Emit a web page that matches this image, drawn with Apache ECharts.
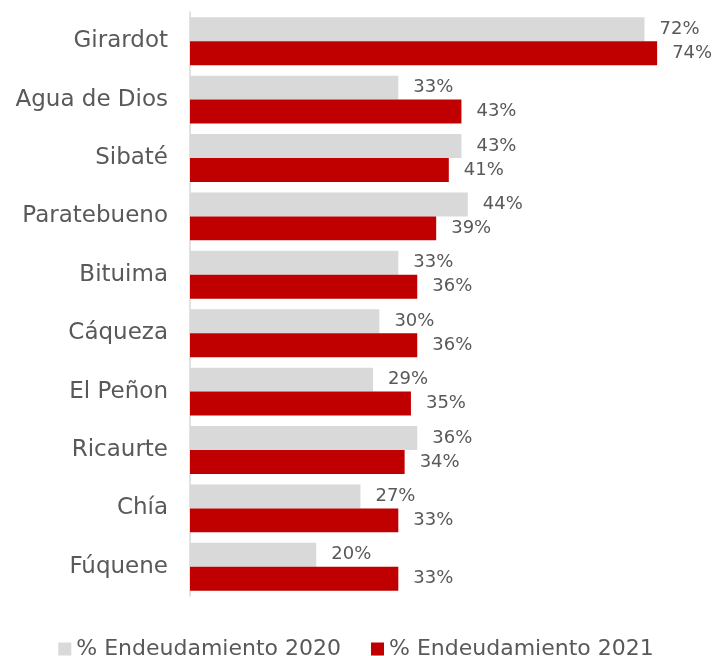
<!DOCTYPE html>
<html><head><meta charset="utf-8">
<script src="https://cdn.jsdelivr.net/npm/echarts@6/dist/echarts.min.js"></script>
<style>html,body{margin:0;padding:0;background:#fff}#c{width:712px;height:656px}</style>
</head><body><div id="c"></div>
<script>
const categories = ["Girardot","Agua de Dios","Sibaté","Paratebueno","Bituima","Cáqueza","El Peñon","Ricaurte","Chía","Fúquene"];
const values2020 = [72,33,43,44,33,30,29,36,27,20];
const values2021 = [74,43,41,39,36,36,35,34,33,33];
const seriesNames = ["% Endeudamiento 2020","% Endeudamiento 2021"];

const FONT = "DejaVu Sans";
const chart = echarts.init(document.getElementById('c'), null, {renderer:'canvas'});
const lbl = {show:true, position:'right', distance:15, color:'#595959', fontSize:18, fontFamily:FONT, formatter: p => p.value + '%'};
chart.setOption({
  animation:false,
  grid:{left:190, right:17, top:12, bottom:60, containLabel:false},
  xAxis:{type:'value', min:0, max:80, show:false, splitLine:{show:false}},
  yAxis:{type:'category', data:categories, inverse:true,
    axisLine:{show:true, lineStyle:{color:'#D9D9D9', width:1.5}},
    axisTick:{show:false},
    axisLabel:{color:'#595959', fontSize:23, fontFamily:FONT, margin:22}},
  legend:{top:633, left:'center', itemWidth:13, itemHeight:13, itemGap:30, icon:'rect',
    textStyle:{color:'#595959', fontSize:22, fontFamily:FONT}, data:seriesNames},
  series:[
    {name:seriesNames[0], type:'bar', data:values2020, barGap:'0%', barCategoryGap:'18%',
     itemStyle:{color:'#D9D9D9'}, label:lbl},
    {name:seriesNames[1], type:'bar', data:values2021, barGap:'0%', barCategoryGap:'18%',
     itemStyle:{color:'#C00000'}, label:lbl}
  ]
});
</script></body></html>
